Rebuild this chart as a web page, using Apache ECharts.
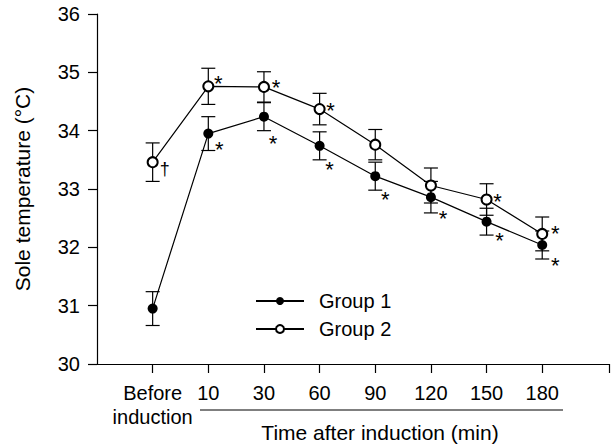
<!DOCTYPE html>
<html><head><meta charset="utf-8">
<script src="https://cdn.jsdelivr.net/npm/echarts@6/dist/echarts.min.js"></script>
<style>html,body{margin:0;padding:0;background:#fff}#c{width:615px;height:446px}</style>
</head><body><div id="c"></div>
<script>
// ---- data ----
const categories = ['Before\ninduction', '10', '30', '60', '90', '120', '150', '180'];
const group1Mean = [30.95, 33.95, 34.24, 33.74, 33.22, 32.86, 32.44, 32.04];
const group1Err  = [0.29, 0.29, 0.24, 0.24, 0.24, 0.27, 0.23, 0.24];
const group2Mean = [33.46, 34.76, 34.75, 34.37, 33.76, 33.06, 32.82, 32.23];
const group2Err  = [0.33, 0.31, 0.26, 0.27, 0.26, 0.30, 0.27, 0.29];
const group1Marks = ['', '*', '*', '*', '*', '*', '*', '*'];
const group2Marks = ['\u2020', '*', '*', '*', '', '', '*', '*'];
const yTicks = [30, 31, 32, 33, 34, 35, 36];
const seriesNames = ['Group 1', 'Group 2'];
const xTitle = 'Time after induction (min)';
const yTitle = 'Sole temperature (\u00B0C)';

// ---- style (annotation offsets relative to marker, px) ----
const FONT = "'Liberation Sans', Arial, sans-serif";
const g1MarkOffsets = [[0,0],[11,10],[9,21],[10,18],[10,17],[12,15],[13,13],[13,14]];
const g2MarkOffsets = [[12,8],[10,-9],[12,-5],[11,-5],[0,0],[0,0],[11,-4],[13,-6]];

const idx = categories.map((c, i) => i);
const chart = echarts.init(document.getElementById('c'), null, {renderer: 'svg'});

function errSeries(mean, err) {
  return {
    type: 'custom', z: 1, silent: true,
    data: idx.map(i => [i, mean[i] - err[i], mean[i] + err[i]]),
    renderItem(params, api) {
      const x = api.value(0);
      const a = api.coord([x, api.value(2)]);
      const b = api.coord([x, api.value(1)]);
      const w = 7, st = {stroke: '#000', lineWidth: 1.2};
      return {type: 'group', children: [
        {type: 'line', shape: {x1: a[0], y1: a[1], x2: b[0], y2: b[1]}, style: st},
        {type: 'line', shape: {x1: a[0] - w, y1: a[1], x2: a[0] + w, y2: a[1]}, style: st},
        {type: 'line', shape: {x1: b[0] - w, y1: b[1], x2: b[0] + w, y2: b[1]}, style: st}
      ]};
    }
  };
}
function markSeries(mean, marks, offs) {
  return {
    type: 'custom', z: 5, silent: true,
    data: idx.map(i => [i, mean[i]]),
    renderItem(params, api) {
      const i = params.dataIndex;
      const t = marks[i];
      if (!t) return null;
      const p = api.coord([api.value(0), api.value(1)]);
      const o = offs[i];
      const corr = t === '*' ? 6 : -1;
      return {type: 'text', x: p[0] + o[0], y: p[1] + o[1] + corr,
        style: {text: t, font: (t === '*' ? '22px ' : '18px ') + FONT, fill: '#000', align: 'center', verticalAlign: 'middle'}};
    }
  };
}

chart.setOption({
  animation: false,
  backgroundColor: '#fff',
  textStyle: {fontFamily: FONT},
  grid: {left: 97, top: 14, right: 6, bottom: 82},
  legend: {
    orient: 'vertical', left: 255, top: 291, padding: 0, itemWidth: 48, itemHeight: 10, itemGap: 8,
    data: seriesNames,
    textStyle: {fontSize: 20, color: '#000', fontFamily: FONT, padding: [0, 0, 0, 10]}
  },
  xAxis: {
    type: 'value', min: -1, max: 8.2,
    splitLine: {show: false},
    axisLine: {onZero: false, lineStyle: {color: '#000', width: 1.2}},
    axisTick: {length: 9, lineStyle: {color: '#000', width: 1.2}, customValues: idx.concat([8.2])},
    axisLabel: {customValues: idx, margin: 17, fontSize: 20, lineHeight: 24, color: '#000', fontFamily: FONT,
      formatter: v => categories[Math.round(v)]}
  },
  yAxis: {
    type: 'value', min: yTicks[0], max: yTicks[yTicks.length - 1], interval: 1,
    splitLine: {show: false},
    axisLine: {show: true, onZero: false, lineStyle: {color: '#000', width: 1.2}},
    axisTick: {show: true, length: 9, lineStyle: {color: '#000', width: 1.2}},
    axisLabel: {margin: 17, fontSize: 20, color: '#000', fontFamily: FONT},
    name: yTitle, nameLocation: 'middle', nameGap: 64,
    nameTextStyle: {fontSize: 21, color: '#000', fontFamily: FONT}
  },
  graphic: [
    {type: 'line', shape: {x1: 200, y1: 410, x2: 563, y2: 410}, style: {stroke: '#555', lineWidth: 1.6}},
    {type: 'text', x: 380, y: 432, style: {text: xTitle, font: '21px ' + FONT, fill: '#000', align: 'center', verticalAlign: 'middle'}}
  ],
  series: [
    errSeries(group1Mean, group1Err),
    errSeries(group2Mean, group2Err),
    {name: seriesNames[0], type: 'line', z: 3, data: idx.map(i => [i, group1Mean[i]]),
      symbol: 'circle', symbolSize: 10, itemStyle: {color: '#000'}, lineStyle: {color: '#000', width: 1.2}},
    {name: seriesNames[1], type: 'line', z: 3, data: idx.map(i => [i, group2Mean[i]]),
      symbol: 'emptyCircle', symbolSize: 10, itemStyle: {color: '#000', borderColor: '#000', borderWidth: 1.2}, lineStyle: {color: '#000', width: 1.2}},
    markSeries(group1Mean, group1Marks, g1MarkOffsets),
    markSeries(group2Mean, group2Marks, g2MarkOffsets)
  ]
});
</script></body></html>
